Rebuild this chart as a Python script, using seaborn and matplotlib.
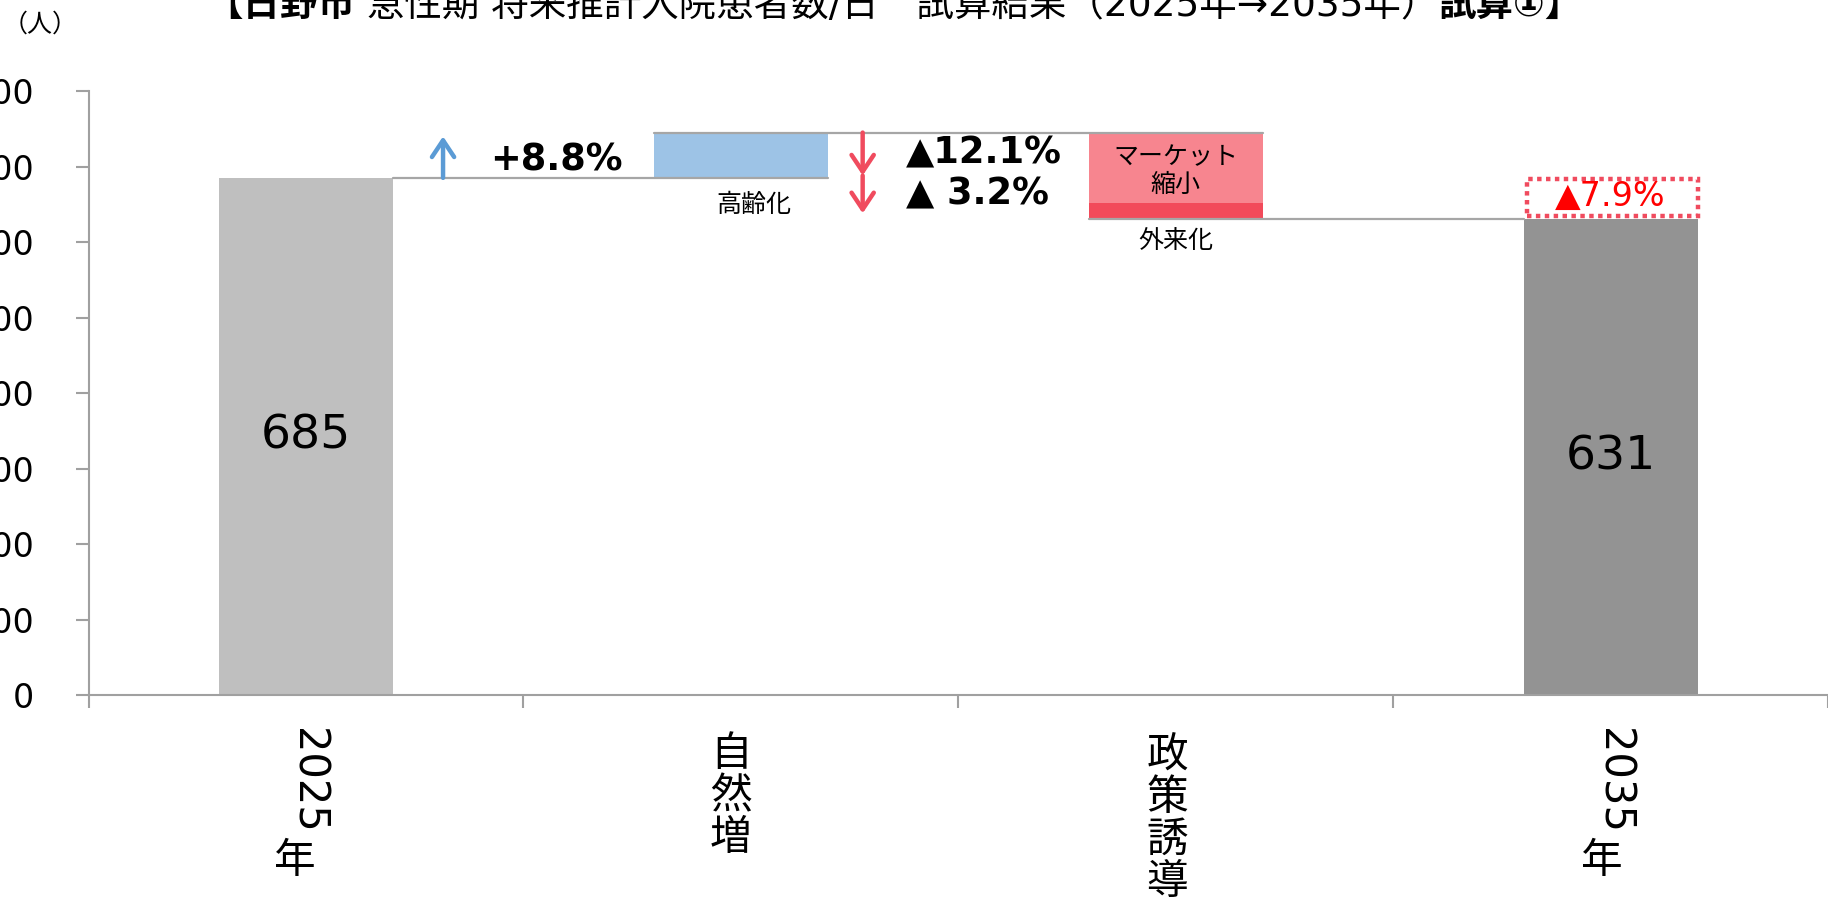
import numpy as np
import pandas as pd
import matplotlib
matplotlib.use("Agg")
import matplotlib.pyplot as plt
from matplotlib.patches import Rectangle
import seaborn as sns

# data
categories = ["2025年", "自然増", "政策誘導", "2035年"]
start_total = 685
aging_increase = 60
market_decrease = 93
outpatient_decrease = 21
end_total = 631
yticks = [0, 100, 200, 300, 400, 500, 600, 700, 800]
pct_aging = "+8.8%"
pct_market = "▲12.1%"
pct_outpatient = "▲ 3.2%"
pct_total = "▲7.9%"

peak = start_total + aging_increase
mid = peak - market_decrease

seg_df = pd.DataFrame({
    "category": ["2025年", "自然増", "政策誘導", "政策誘導", "2035年"],
    "bottom": [0, start_total, mid, end_total, 0],
    "height": [start_total, aging_increase, market_decrease, outpatient_decrease, end_total],
    "color": ["#BFBFBF", "#9DC3E6", "#F7858F", "#F24A5A", "#939393"],
})

sns.set_theme(style="white", rc={"text.color": "black", "ytick.labelcolor": "black",
                                 "axes.labelcolor": "black"})
plt.rcParams["font.family"] = ["DejaVu Sans", "Noto Sans CJK JP"]

fig = plt.figure(figsize=(18.28, 9.05), dpi=100)
ax = fig.add_axes([0.0485, 0.232, 0.9515, 0.6674])

for _, row in seg_df.iterrows():
    sns.barplot(x=[row["category"]], y=[row["height"]], order=categories,
                bottom=row["bottom"], color=row["color"], saturation=1,
                width=0.4, linewidth=0, ax=ax, zorder=2)

# connector lines
line_c = "#A6A6A6"
ax.plot([0.2, 1.2], [start_total, start_total], color=line_c, lw=1.6, zorder=3)
ax.plot([0.8, 2.2], [peak, peak], color=line_c, lw=1.6, zorder=3)
ax.plot([1.8, 2.8], [end_total, end_total], color=line_c, lw=1.6, zorder=3)

ax.set_xlim(-0.5, 3.5)
ax.set_ylim(0, 800)
ax.set_yticks(yticks)
ax.set_yticklabels([str(v) for v in yticks], fontsize=24)
ax.set_xticks([])
ax.set_xticks([-0.5, 0.5, 1.5, 2.5, 3.5], minor=True)
ax.set_xlabel("")
ax.set_ylabel("")
ax.tick_params(axis="y", left=True, length=9.4, width=1.5, color="#A0A0A0", pad=30)
ax.tick_params(axis="x", which="minor", bottom=True, length=9.4, width=1.5, color="#A0A0A0")
for s in ["top", "right"]:
    ax.spines[s].set_visible(False)
for s in ["left", "bottom"]:
    ax.spines[s].set_color("#A0A0A0")
    ax.spines[s].set_linewidth(1.5)

# category labels (vertical writing)
xt = ax.get_xaxis_transform()
ax.text(0.004, -0.055, "2025", rotation=-90, ha="center", va="top", fontsize=30, transform=xt)
ax.text(-0.025, -0.275, "年", ha="center", va="center", fontsize=30, transform=xt)
ax.text(0.977, -0.167, "自\n然\n増", ha="center", va="center", fontsize=30, linespacing=1.0, transform=xt)
ax.text(1.98, -0.205, "政\n策\n誘\n導", ha="center", va="center", fontsize=30, linespacing=1.0, transform=xt)
ax.text(3.007, -0.055, "2035", rotation=-90, ha="center", va="top", fontsize=30, transform=xt)
ax.text(2.98, -0.275, "年", ha="center", va="center", fontsize=30, transform=xt)

# bar values
ax.text(0, start_total / 2, str(start_total), ha="center", va="center", fontsize=34, zorder=4)
ax.text(3, end_total / 2, str(end_total), ha="center", va="center", fontsize=34, zorder=4)

# arrows and percentages
head = "->,head_length=0.6,head_width=0.4"
ax.annotate("", xy=(0.315, 740), xytext=(0.315, start_total),
            arrowprops=dict(arrowstyle=head, color="#5B9BD5", lw=3.2, mutation_scale=20,
                            shrinkA=0, shrinkB=0))
ax.text(0.575, 709, pct_aging, ha="center", va="center", fontsize=26.5, fontweight="bold")
red = "#F04B5E"
ax.annotate("", xy=(1.28, 688), xytext=(1.28, peak),
            arrowprops=dict(arrowstyle=head, color=red, lw=3.2, mutation_scale=20,
                            shrinkA=0, shrinkB=0))
ax.annotate("", xy=(1.28, 638), xytext=(1.28, 688),
            arrowprops=dict(arrowstyle=head, color=red, lw=3.2, mutation_scale=20,
                            shrinkA=0, shrinkB=0))
ax.text(1.38, 718, pct_market, ha="left", va="center", fontsize=26.5, fontweight="bold")
ax.text(1.38, 664, pct_outpatient, ha="left", va="center", fontsize=26.5, fontweight="bold")

ax.text(1.03, 649, "高齢化", ha="center", va="center", fontsize=18, zorder=4)
ax.text(2.0, 713, "マーケット", ha="center", va="center", fontsize=18, zorder=4)
ax.text(2.0, 676, "縮小", ha="center", va="center", fontsize=18, zorder=4)
ax.text(2.0, 601, "外来化", ha="center", va="center", fontsize=18, zorder=4)

ax.add_patch(Rectangle((2.807, 634), 0.393, 50, facecolor="white", edgecolor=red,
                       linestyle=(0, (1, 1)), lw=3.2, zorder=4))
ax.text(3.0, 660, pct_total, ha="center", va="center", fontsize=24, color="#FF0000", zorder=5)

# unit label and clipped title
fig.text(0.022, 0.973, "（人）", ha="center", va="center", fontsize=18)
parts = [("【日野市", "bold"),
         (" 急性期 将来推計入院患者数/日　試算結果（2025年→2035年）", "normal"),
         ("試算①】", "bold")]
x0 = 205 / 1828
fig.canvas.draw()
for txt, w in parts:
    t = fig.text(x0, 0.993, txt, ha="left", va="center", fontsize=27, fontweight=w)
    fig.canvas.draw()
    bb = t.get_window_extent()
    x0 = bb.x1 / fig.bbox.width

fig.savefig("out.png", dpi=100)
